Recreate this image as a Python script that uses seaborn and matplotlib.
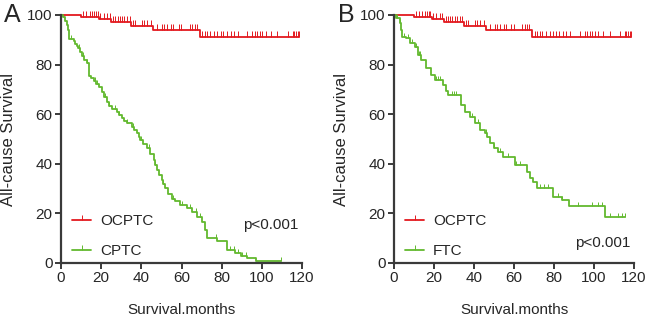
import numpy as np
import pandas as pd
import seaborn as sns
import matplotlib.pyplot as plt

# OCPTC (same cohort in both panels): step times (months) and survival (%)
ocptc_t = [0, 10, 19, 25, 35, 46, 69, 118.5]
ocptc_s = [100, 99.3, 98.2, 97.0, 95.6, 93.8, 91.2, 91.2]
ocptc_cens = [10.8, 12.5, 14.2, 15.3, 16.5, 17.3, 18.2, 19.5, 21.2, 22.8, 24.2,
              25.8, 27, 28.2, 29.2, 30.3, 31.5, 32.8, 34.2, 35.8, 37, 40.3, 41.5,
              42.8, 44.8, 47.8, 50.3, 51.5, 52.8, 54.8, 55.8, 58.7, 59.8, 64.2,
              65.3, 66.5, 67.5, 70.3, 71.5, 72.8, 74.2, 76.2, 77.8, 79.5, 80.8,
              82.5, 84.5, 86.2, 88.2, 92.8, 95.3, 96.5, 97.8, 99.2, 100.3, 102,
              104.5, 107.8, 112.8, 115.3, 116.2, 117, 117.8, 118.5]

# CPTC (panel A)
cptc_t = [0, 1, 2, 3, 3.7, 4, 6.5, 7, 8, 8.7, 9.5, 10.3, 11.5, 12.8, 13.7, 15,
          16.2, 17.5, 18.7, 20.3, 21.5, 22.8, 24, 25.3, 27.8, 29, 30.3, 31.5,
          32.8, 35.3, 36.5, 37.8, 38.7, 39.5, 41, 42.8, 44.5, 46.2, 47, 47.8,
          49, 50.3, 51, 52, 53.5, 55.3, 57, 59.5, 62.8, 65, 67.8, 70.3, 71.5,
          72.8, 77.5, 82.8, 86.5, 89.5, 92.8, 97, 109.5]
cptc_s = [100, 99, 97.5, 96, 94, 90.5, 89.5, 88.5, 87.5, 86.5, 85, 83.5, 82,
          80.5, 75.5, 74.5, 73.2, 72, 71, 69, 67, 65, 63.5, 62, 61, 59.5, 58.3,
          57.3, 56.3, 55, 53.8, 52.3, 51, 49.5, 48, 46.3, 44, 41.5, 39.5, 37.5,
          35.5, 33.5, 32, 30.1, 28, 26, 24.8, 23.4, 22, 20.5, 18.7, 16.7, 13.5,
          10, 9, 5.2, 4.1, 3, 2, 0.9, 0.9]
cptc_cens = [5, 9, 11, 13, 17, 18, 22, 24, 27, 29, 33, 36, 40, 44, 47, 51, 56,
             60, 64, 67, 69, 77, 84, 86, 88, 90, 92, 109.5]

# FTC (panel B)
ftc_t = [0, 1.2, 2.8, 3.5, 4, 6.2, 7.8, 10.3, 12, 13.7, 16.2, 18.7, 20.3, 24.5,
         26, 27, 33.7, 35.3, 37.8, 40.3, 42.8, 45.3, 46.3, 48, 50, 52, 54.7,
         60.5, 66.3, 68, 69.7, 71.3, 79.7, 83.8, 87.7, 105.5, 115.5]
ftc_s = [100, 98.7, 96.6, 94, 91.3, 90.6, 88.6, 87.2, 83.9, 81.9, 78.5, 75.8,
         73.8, 71.8, 69.5, 67.7, 63.7, 61, 59, 56.3, 53.6, 52.3, 51, 48.5, 46.5,
         44.9, 42.9, 39.5, 36.8, 34.1, 32.8, 30.1, 26.7, 25.4, 22.9, 18.4, 18.4]
ftc_cens = [1.5, 3, 5, 7, 9, 11, 12.5, 13, 21, 22, 23, 29, 30, 31, 39, 42, 46,
            50, 53, 57, 61, 63, 73, 75, 77, 82, 84, 92, 99, 102, 104, 108, 112,
            114, 115.5]

RED = '#E3191F'
GREEN = '#62B92E'
TICK = [(0, 0), (0, 1)]  # censor mark pointing up

sns.set_style('ticks')
plt.rcParams['font.family'] = ['Liberation Sans', 'DejaVu Sans']

fig = plt.figure(figsize=(6.5, 3.24), dpi=100)
axA = fig.add_axes([61 / 650, 61 / 324, 241 / 650, 248 / 324])
axB = fig.add_axes([394 / 650, 61 / 324, 240 / 650, 248 / 324])


def step_at(times, surv, x):
    idx = np.searchsorted(times, x, side='right') - 1
    return np.asarray(surv)[np.clip(idx, 0, len(surv) - 1)]


def draw_curve(ax, times, surv, cens, color, label, msize):
    df = pd.DataFrame({'t': times, 's': surv})
    sns.lineplot(data=df, x='t', y='s', ax=ax, color=color, lw=1.3,
                 drawstyle='steps-post', estimator=None, sort=False,
                 clip_on=False, label=label, legend=False)
    ax.plot(cens, step_at(times, surv, cens), ls='none', marker=TICK,
            markersize=msize, mew=0.7, color=color, clip_on=False)


def style(ax, letter, other, other_label, ptxt_y):
    draw_curve(ax, ocptc_t, ocptc_s, ocptc_cens, RED, 'OCPTC', 8)
    draw_curve(ax, *other, GREEN, other_label, 6)
    ax.set_xlim(0, 120)
    ax.set_ylim(0, 100)
    ax.set_xticks(range(0, 121, 20))
    ax.set_yticks(range(0, 101, 20))
    sns.despine(ax=ax)
    for s in ('left', 'bottom'):
        ax.spines[s].set_linewidth(1.6)
        ax.spines[s].set_color('#3a3a3a')
    ax.tick_params(length=4, width=1.4, color='#3a3a3a', labelsize=11, pad=2)
    ax.set_xlabel('Survival.months', fontsize=11, labelpad=13)
    ax.set_ylabel('All-cause Survival', fontsize=12, labelpad=8)
    ax.text(-0.235, 1.0, letter, transform=ax.transAxes, fontsize=18,
            va='center', ha='left')
    ax.text(0.985, ptxt_y, 'p<0.001', transform=ax.transAxes, fontsize=11,
            ha='right', va='center')
    handles = [plt.Line2D([], [], color=RED, lw=1.3, marker=TICK, markersize=7,
                          mew=0.7),
               plt.Line2D([], [], color=GREEN, lw=1.3, marker=TICK, markersize=7,
                          mew=0.7)]
    ax.legend(handles, ['OCPTC', other_label], loc='lower left',
              bbox_to_anchor=(-0.01, -0.035), frameon=False, fontsize=11,
              handlelength=1.25, handletextpad=0.55, labelspacing=1.05,
              numpoints=1)


style(axA, 'A', (cptc_t, cptc_s, cptc_cens), 'CPTC', 0.155)
style(axB, 'B', (ftc_t, ftc_s, ftc_cens), 'FTC', 0.08)

fig.savefig('out.png', dpi=100)
